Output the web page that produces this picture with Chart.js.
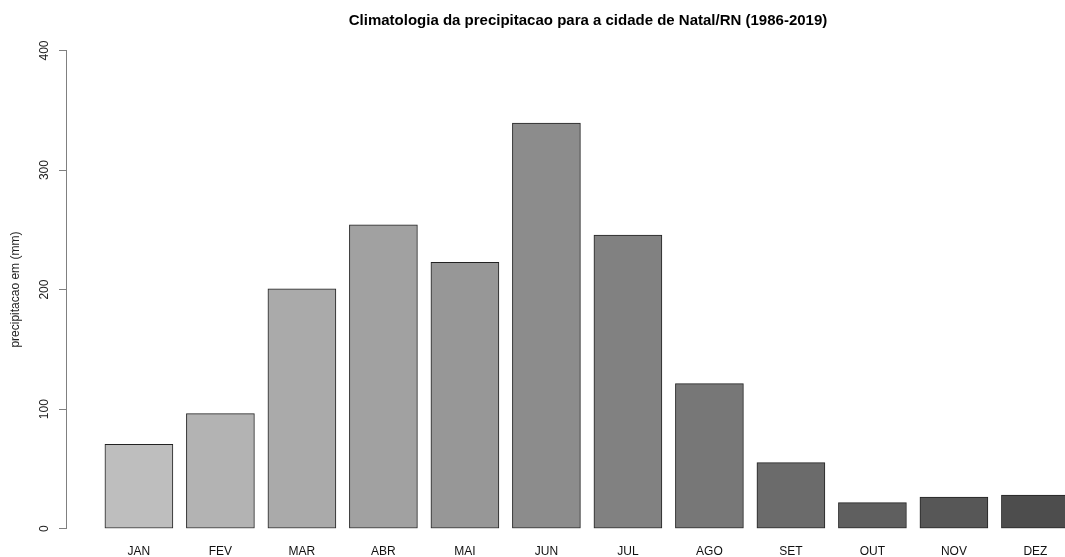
<!DOCTYPE html>
<html>
<head>
<meta charset="utf-8">
<script src="https://cdn.jsdelivr.net/npm/chart.js@4.4.1/dist/chart.umd.min.js"></script>
<style>
  html, body { margin: 0; padding: 0; overflow: hidden; background: #fff; width: 1065px; height: 557px; }
  canvas { display: block; }
</style>
</head>
<body>
<canvas id="c" width="1110" height="557"></canvas>
<script>
const titleText = "Climatologia da precipitacao para a cidade de Natal/RN (1986-2019)";
const yAxisTitle = "precipitacao em (mm)";
const months = ["JAN", "FEV", "MAR", "ABR", "MAI", "JUN", "JUL", "AGO", "SET", "OUT", "NOV", "DEZ"];
const precipitation = [70.6, 96.2, 200.6, 254.1, 222.8, 339.3, 245.5, 121.4, 55.3, 21.8, 26.4, 28.2];
const yTicks = [0, 100, 200, 300, 400];
const barColors = ["#bebebe", "#b3b3b3", "#aaaaaa", "#a1a1a1", "#979797", "#8c8c8c",
                   "#818181", "#777777", "#6b6b6b", "#5f5f5f", "#575757", "#4d4d4d"];

const points = months.map((m, i) => ({ x: i + 1, y: precipitation[i] }));
const FONT = "'Liberation Sans', Arial, sans-serif";

new Chart(document.getElementById('c'), {
  type: 'bar',
  data: {
    datasets: [{
      data: points,
      backgroundColor: barColors,
      borderColor: '#222',
      borderWidth: 1,
      borderSkipped: false,
      barThickness: 68
    }]
  },
  options: {
    responsive: false,
    animation: false,
    layout: { padding: { top: 0, right: 0, bottom: 0, left: 0 } },
    plugins: {
      legend: { display: false },
      tooltip: { enabled: false },
      title: {
        display: true,
        text: titleText,
        fullSize: false,
        color: '#000',
        font: { family: FONT, size: 15, weight: 'bold' },
        padding: { top: 12, bottom: 20.5 }
      }
    },
    scales: {
      x: {
        type: 'linear',
        offset: false,
        min: 0.1055,
        max: 12.915,
        grid: { display: false, drawTicks: false, offset: false },
        border: { display: false },
        afterFit: (scale) => { scale.height = 28.3; },
        afterBuildTicks: (scale) => { scale.ticks = months.map((m, i) => ({ value: i + 1 })); },
        ticks: {
          autoSkip: false,
          maxRotation: 0,
          padding: 16,
          color: '#111',
          font: { family: FONT, size: 12 },
          callback: (v) => months[Math.round(v) - 1]
        }
      },
      y: {
        min: 0,
        max: 400,
        afterFit: (scale) => { scale.width = 66; },
        afterBuildTicks: (scale) => { scale.ticks = yTicks.map(v => ({ value: v })); },
        grid: { display: true, drawOnChartArea: false, drawTicks: true, tickLength: 7, color: '#808080', lineWidth: 1 },
        border: { display: true, color: '#808080', width: 1 },
        ticks: {
          minRotation: 90,
          maxRotation: 90,
          crossAlign: 'center',
          padding: 4,
          color: '#222',
          font: { family: FONT, size: 12 }
        },
        title: {
          display: true,
          text: yAxisTitle,
          color: '#222',
          font: { family: FONT, size: 12 },
          padding: { top: 8, bottom: 0 }
        }
      }
    }
  }
});
</script>
</body>
</html>
